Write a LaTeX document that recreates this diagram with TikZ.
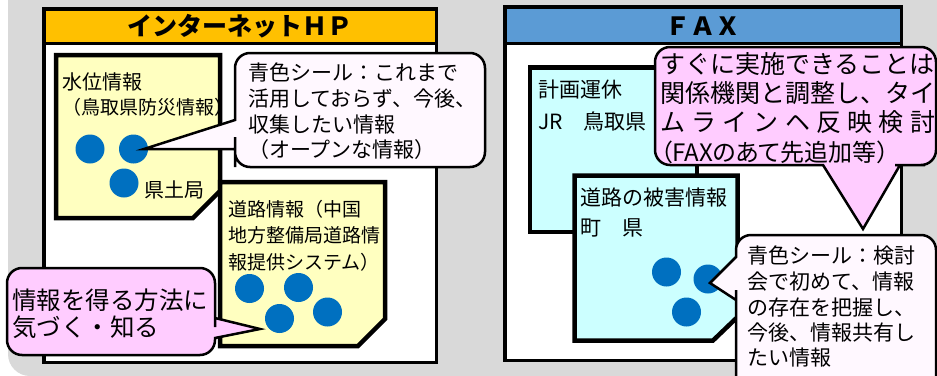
\documentclass[tikz,border=0pt]{standalone}
\usepackage{fontspec}
\setmainfont{Noto Sans CJK JP}
\definecolor{bggray}{HTML}{D9D9D9}
\definecolor{hporange}{HTML}{FFC000}
\definecolor{faxblue}{HTML}{5B9BD5}
\definecolor{noteyellow}{HTML}{FFFFC0}
\definecolor{notecyan}{HTML}{CCFFFF}
\definecolor{callpink}{HTML}{FFCCFF}
\definecolor{callwhite}{HTML}{FFF8FF}
\definecolor{dotblue}{HTML}{0070C0}
\begin{document}
\begin{tikzpicture}[x=1pt,y=-1pt,
  panel/.style={line width=3.5pt, fill=white},
  panelline/.style={line width=3.5pt},
  note/.style={line width=4.5pt, line join=miter},
  callout/.style={line width=2.5pt, line join=miter},
  bluedot/.style={circle, fill=dotblue, inner sep=0pt, minimum size=29pt},
  title/.style={inner sep=0pt, font=\fontsize{25}{30}\selectfont\bfseries},
  txt/.style={anchor=base west, inner sep=0pt, font=\fontsize{21}{26}\selectfont},
  txtn/.style={anchor=base west, inner sep=0pt, font=\fontsize{19}{24}\selectfont},
  txtp/.style={anchor=base west, inner sep=0pt, font=\fontsize{24.5}{29}\selectfont},
  txtf/.style={anchor=base west, inner sep=0pt, font=\fontsize{25}{29}\selectfont}]
\useasboundingbox (0,0) rectangle (937,375);
\fill[white] (0,0) rectangle (937,375);
\fill[bggray, rounded corners=22pt] (8,-40) rectangle (990,376);

% left panel
\draw[panel] (44,9) rectangle (436.5,362.5);
\draw[panelline, fill=hporange] (44,9) rectangle (436.5,43.5);
\node[title] (t1) at (240,26) {インターネットＨＰ};
% right panel
\draw[panel] (505,7) rectangle (901.5,360.5);
\draw[panelline, fill=faxblue] (505,7) rectangle (901.5,43.5);
\node[title] (t2) at (703,26) {ＦＡＸ};

% note 1 (water level)
\draw[note, fill=noteyellow] (56,55) -- (220,55) -- (220,191) -- (193,218) -- (56,218) -- cycle;
\node[txt, font=\fontsize{20}{26}\selectfont] (n1a) at (62,89) {水位情報};
\node[txtn] (n1b) at (62,114) {（鳥取県防災情報）};
\node[bluedot] (d11) at (90,149) {};
\node[bluedot] (d12) at (133.5,149) {};
\node[bluedot] (d13) at (124,183) {};
\node[txt, font=\fontsize{20}{26}\selectfont] (n1c) at (144,197) {県土局};

% note 2 (road info)
\draw[note, fill=noteyellow] (220,182) -- (385,182) -- (385,319) -- (358,346) -- (220,346) -- cycle;
\node[txtn] (n2a) at (228,216) {道路情報（中国};
\node[txtn] (n2b) at (228,242) {地方整備局道路情};
\node[txtn] (n2c) at (228,269) {報提供システム）};
\node[bluedot] (d21) at (249.5,288.5) {};
\node[bluedot] (d22) at (298.5,287.5) {};
\node[bluedot] (d23) at (279.5,318.5) {};
\node[bluedot] (d24) at (327.5,312) {};

% callout 1
\coordinate (tip1) at (144,149);
\draw[callout, fill=callwhite] (360,53) [rounded corners=15pt] -- (485,53) -- (485,167) -- (235,167) -- (235,152)
  [sharp corners] -- (235,149) -- (tip1) -- (235,120) -- (235,117)
  [rounded corners=15pt] -- (235,53) -- cycle;
\node[txt] (c1a) at (248,80.6) {青色シール：これまで};
\node[txt] (c1b) at (248,106.6) {活用しておらず、今後、};
\node[txt] (c1c) at (248,132.6) {収集したい情報};
\node[txt] (c1d) at (248,157.6) {（オープンな情報）};

% callout 2
\coordinate (tip2) at (260,329);
\draw[callout, fill=callpink] (7,300) [rounded corners=15pt] -- (7,268) -- (215,268) -- (215,312)
  [sharp corners] -- (215,318) -- (tip2) -- (215,338) -- (215,340)
  [rounded corners=15pt] -- (215,355) -- (7,355) -- cycle;
\node[txtp] (c2a) at (12,309.8) {情報を得る方法に};
\node[txtp] (c2b) at (12,336.8) {気づく・知る};

% cyan note 1
\draw[note, fill=notecyan] (530,67.5) -- (697,67.5) -- (697,232) -- (530,232) -- cycle;
\node[txt] (m1a) at (538,97.5) {計画運休};
\node[txt] (m1b) at (538,129.5) {JR　鳥取県};

% cyan note 2
\draw[note, fill=notecyan] (574.5,175.5) -- (737.5,175.5) -- (737.5,317) -- (713,340.5) -- (574.5,340.5) -- cycle;
\node[txt] (m2a) at (580,205.5) {道路の被害情報};
\node[txt] (m2b) at (580,235.5) {町　県};
\node[bluedot] (d31) at (666.5,272) {};
\node[bluedot] (d32) at (708,279) {};
\node[bluedot] (d33) at (686.5,312) {};

% pink callout (FAX)
\coordinate (tip3) at (863,229);
\draw[callout, fill=callpink] (655,100) [rounded corners=15pt] -- (655,47) -- (936,47) -- (936,165) -- (910,165)
  [sharp corners] -- (900,165) -- (tip3) -- (823,165) -- (813,165)
  [rounded corners=15pt] -- (655,165) -- cycle;
\node[txtf] (f1) at (660,73) {すぐに実施できることは};
\node[txtf] (f2) at (660,102) {関係機関と調整し、タイ};
\node[txtf] (f3) at (660,131) {\makebox[275pt][l]{ム\hfill ラ\hfill イ\hfill ン\hfill ヘ\hfill 反\hfill 映\hfill 検\hfill 討}};
\node[txtf, font=\fontsize{24}{29}\selectfont\addfontfeature{RawFeature=+palt}] (f4) at (660,161) {（FAXのあて先追加等）};

% callout 3
\coordinate (tip4) at (710,283);
\draw[callout, fill=callwhite] (835,235) [rounded corners=15pt] -- (936,235) -- (936,392) -- (736,392) -- (736,305)
  [sharp corners] -- (736,300) -- (tip4) -- (736,257) -- (736,252)
  [rounded corners=15pt] -- (736,235) -- cycle;
\node[txt] (c3a) at (747,263.5) {青色シール：検討};
\node[txt] (c3b) at (747,289.5) {会で初めて、情報};
\node[txt] (c3c) at (747,315.5) {の存在を把握し、};
\node[txt] (c3d) at (747,340.5) {今後、情報共有し};
\node[txt] (c3e) at (747,365.5) {たい情報};
\end{tikzpicture}
\end{document}
